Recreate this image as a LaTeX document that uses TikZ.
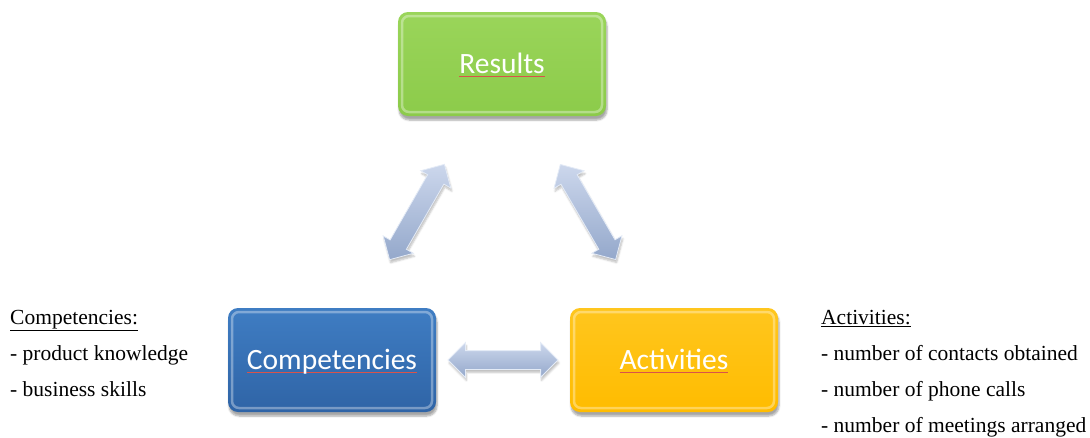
\documentclass[tikz,border=0pt]{standalone}
\usepackage{fontspec}
\setmainfont{Liberation Serif}
\newfontfamily\boxfont{Carlito}
\usetikzlibrary{shapes.arrows, shadows.blur}

\definecolor{resgreen}{HTML}{9AD55A}
\definecolor{resgreendk}{HTML}{8CCB4A}
\definecolor{compblue}{HTML}{3F7DC3}
\definecolor{compbluedk}{HTML}{2F64A6}
\definecolor{actyellow}{HTML}{FFC61E}
\definecolor{actyellowdk}{HTML}{FFBC00}
\definecolor{arrowlt}{HTML}{CCD7EC}
\definecolor{arrowdk}{HTML}{94A8CB}
\definecolor{arrowrim}{HTML}{E4EBF6}
\definecolor{spellred}{HTML}{D9534A}

% red squiggle under the box captions
\newsavebox\spellbox
\newcommand\spell[1]{\sbox\spellbox{#1}\rlap{\color{spellred}\rule[-3pt]{\wd\spellbox}{0.9pt}}\usebox\spellbox}

\tikzset{
  box/.style={rectangle, rounded corners=10pt, minimum width=208pt, minimum height=104pt,
    text=white, font=\boxfont\fontsize{29.5}{34}\selectfont, text height=19pt, text depth=0pt,
    blur shadow={shadow xshift=1pt, shadow yshift=-4pt, shadow blur steps=6, shadow opacity=35},
    path picture={\draw[white, opacity=0.35, line width=2.5pt, rounded corners=7pt]
      ([shift={(4pt,-4pt)}]path picture bounding box.north west) rectangle
      ([shift={(-4pt,4pt)}]path picture bounding box.south east);}},
  bigarrow/.style={double arrow, double arrow head extend=8pt, double arrow tip angle=90,
    minimum height=110pt, text height=9pt, text depth=9pt, inner sep=0pt,
    top color=arrowlt, bottom color=arrowdk, draw=arrowrim, line width=0.8pt,
    blur shadow={shadow xshift=1pt, shadow yshift=-3pt, shadow blur steps=5, shadow opacity=25}},
  list/.style={align=left, inner sep=0pt, anchor=north west, font=\fontsize{21.5}{36}\selectfont},
}

\begin{document}
\begin{tikzpicture}[x=1pt,y=-1pt]
\useasboundingbox (0,0) rectangle (1090,437);

% the three boxes
\node[box, top color=resgreen, bottom color=resgreendk] (res) at (502,64) {\spell{Results}};
\node[box, top color=compblue, bottom color=compbluedk] (comp) at (332,360) {\spell{Competencies}};
\node[box, top color=actyellow, bottom color=actyellowdk] (act) at (674,360) {\spell{Activities}};

% two-way links
\path (res) -- node[bigarrow, sloped] (resComp) {} (comp);
\path (res) -- node[bigarrow, sloped] (resAct) {} (act);
\path (comp) -- node[bigarrow, sloped] (compAct) {} (act);

% side notes
\node[list] (compList) at (10,310) {\underline{Competencies:}\\- product knowledge\\- business skills};
\node[list] (actList) at (821,310) {\underline{Activities:}\\- number of contacts obtained\\- number of phone calls\\- number of meetings arranged};
\end{tikzpicture}
\end{document}
